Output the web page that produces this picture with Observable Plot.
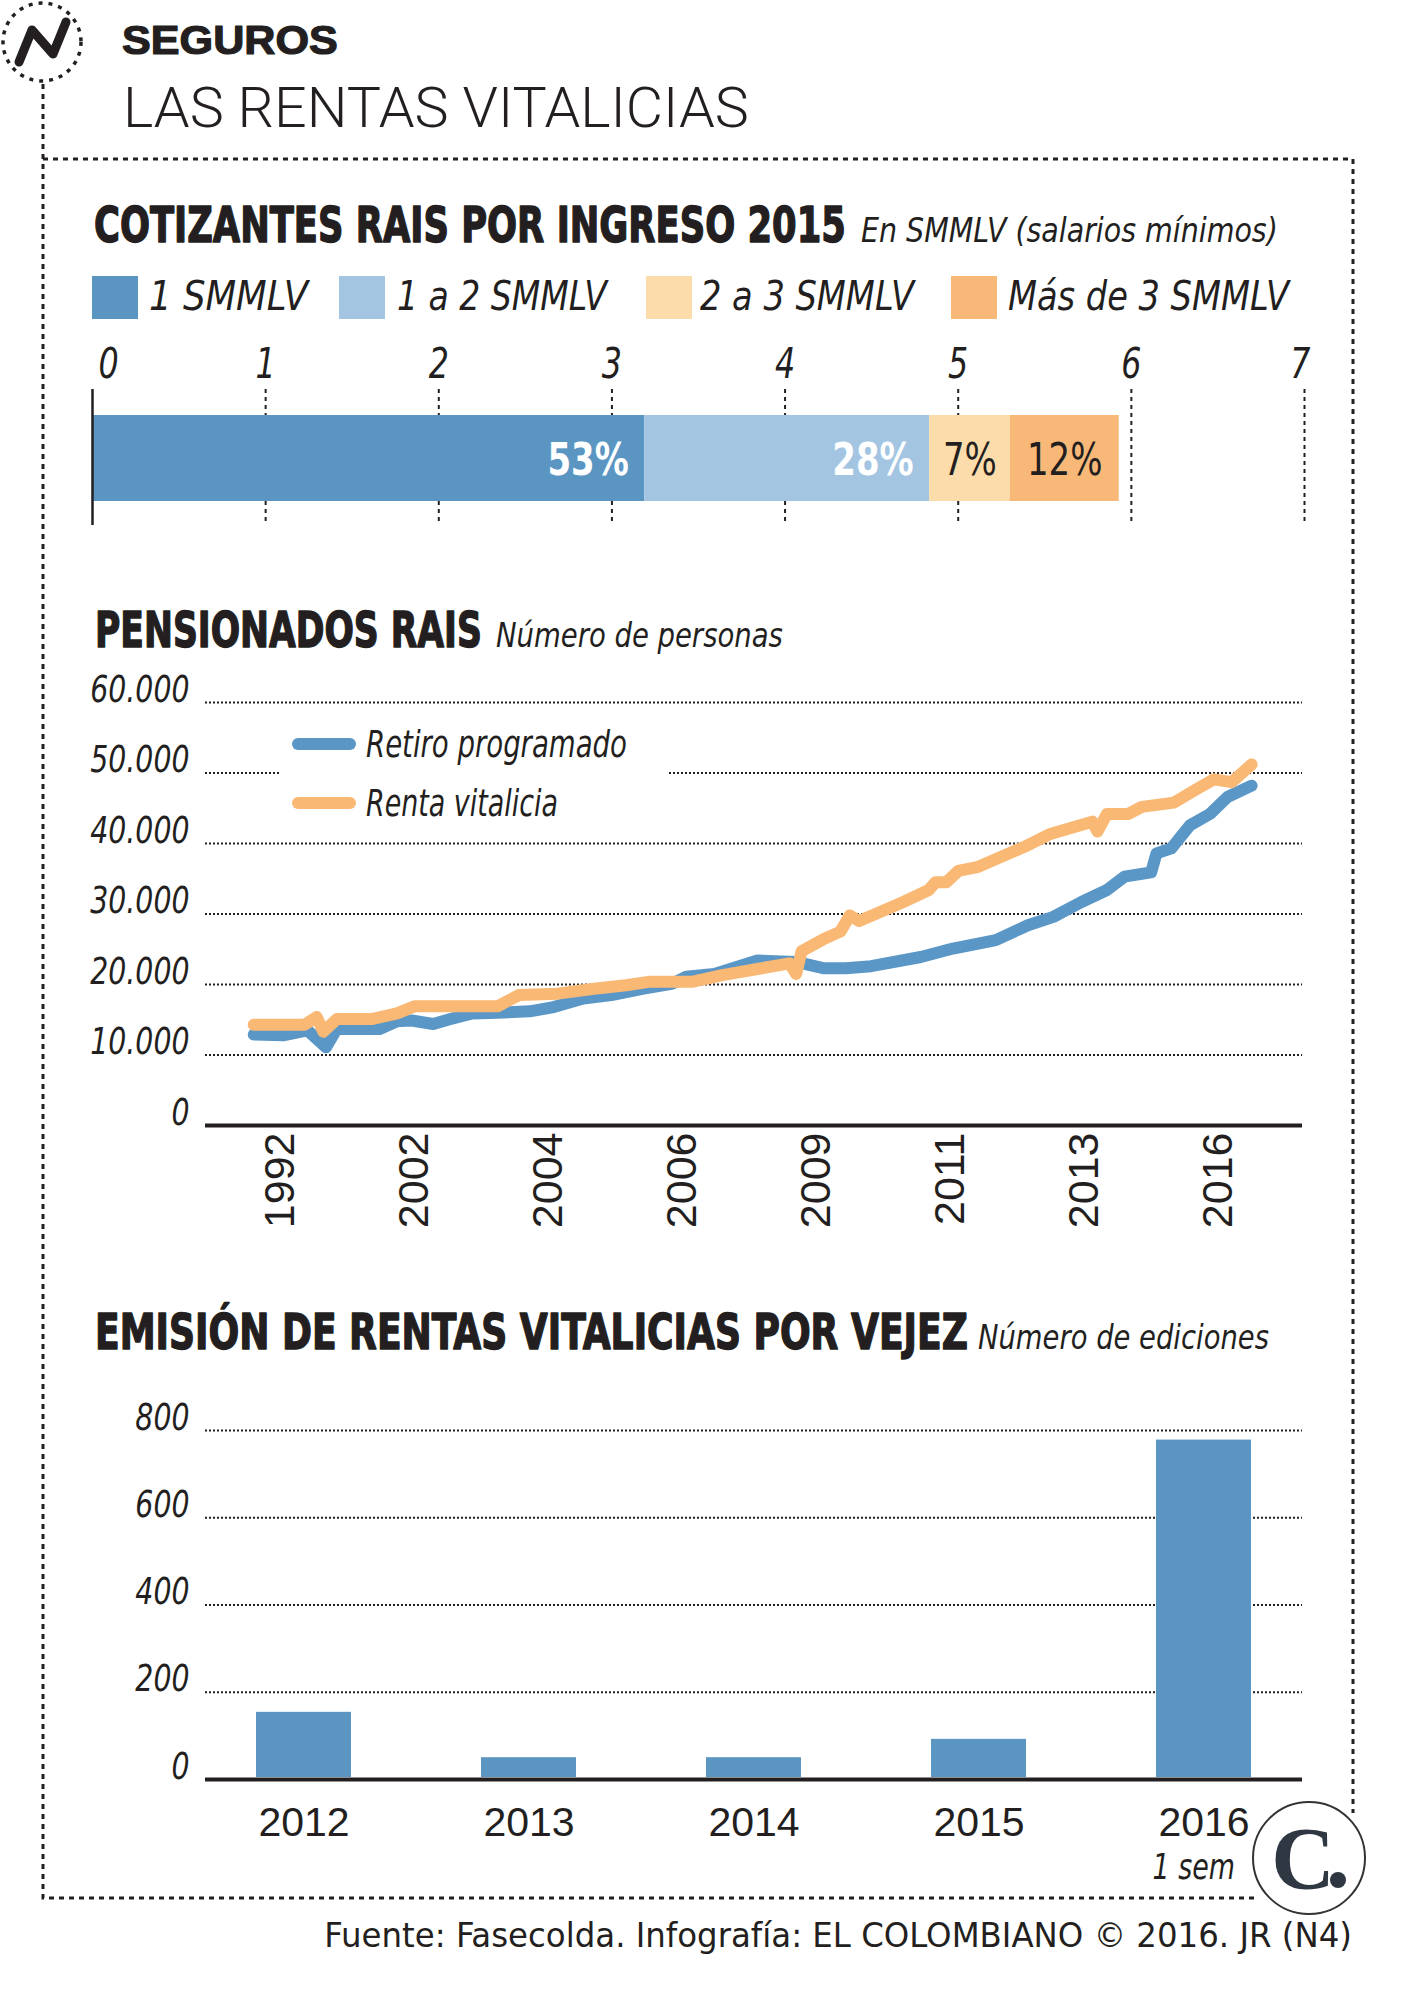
<!DOCTYPE html>
<html><head><meta charset="utf-8">
<script src="https://cdn.jsdelivr.net/npm/d3@7"></script>
<script src="https://cdn.jsdelivr.net/npm/@observablehq/plot@0.6"></script>
<style>
html,body{margin:0;padding:0;background:#fff;}
#page{position:relative;width:1412px;height:2000px;overflow:hidden;background:#fff;color:#231f20;
  font-family:"Liberation Sans Narrow","Arial Narrow","DejaVu Sans Condensed",sans-serif;}
</style></head><body><div id="page"></div>
<script>
// ---------- DATA ----------
const kicker = "SEGUROS";
const headline = "LAS RENTAS VITALICIAS";
const source = "Fuente: Fasecolda. Infografía: EL COLOMBIANO © 2016. JR (N4)";

const title1 = "COTIZANTES RAIS POR INGRESO 2015";
const subtitle1 = "En SMMLV (salarios mínimos)";
const incomeCats = ["1 SMMLV", "1 a 2 SMMLV", "2 a 3 SMMLV", "Más de 3 SMMLV"];
const incomeValues = [3.19, 1.645, 0.465, 0.63];
const incomeLabels = ["53%", "28%", "7%", "12%"];
const incomeColors = ["#5b96c3", "#a3c5e1", "#fddcab", "#f8b878"];
const incomeTicks = [0, 1, 2, 3, 4, 5, 6, 7];

const title2 = "PENSIONADOS RAIS";
const subtitle2 = "Número de personas";
const pensionSeries = ["Retiro programado", "Renta vitalicia"];
const pensionColors = ["#5b97c6", "#f9b874"];
const pensionTickPos = [1, 2, 3, 4, 5, 6, 7, 8];
const pensionTickLabels = ["1992", "2002", "2004", "2006", "2009", "2011", "2013", "2016"];
const pensionYTicks = [0, 10000, 20000, 30000, 40000, 50000, 60000];
const retiroT = [0.80,1.02,1.20,1.34,1.42,1.74,1.87,1.98,2.14,2.27,2.43,2.62,2.86,3.04,3.26,3.47,3.71,3.92,4.03,4.24,4.56,4.85,5.06,5.22,5.41,5.78,6.02,6.34,6.58,6.77,6.98,7.17,7.30,7.50,7.54,7.65,7.79,7.94,8.07,8.25];
const retiroV = [12900,12800,13500,11100,13700,13700,14800,14900,14400,15100,15900,16000,16200,16800,18000,18500,19400,20100,21100,21500,23400,23200,22300,22300,22600,23900,25100,26300,28400,29600,31700,33400,35300,35900,38600,39300,42600,44200,46600,48200];
const rentaT = [0.80,1.18,1.27,1.32,1.42,1.68,1.87,2.00,2.62,2.78,3.07,3.34,3.58,3.76,4.08,4.29,4.56,4.80,4.85,4.89,5.06,5.18,5.25,5.32,5.65,5.84,5.89,5.97,6.06,6.21,6.55,6.74,7.06,7.10,7.17,7.33,7.43,7.67,7.83,7.97,8.10,8.25];
const rentaV = [14300,14300,15400,13300,15100,15100,15900,16900,16900,18500,18700,19400,19900,20400,20400,21300,22200,23000,21500,24700,26500,27500,29800,29000,31700,33400,34500,34500,36100,36700,39500,41300,43100,41700,44200,44200,45200,45800,47600,49100,48700,51200];

const title3 = "EMISIÓN DE RENTAS VITALICIAS POR VEJEZ";
const subtitle3 = "Número de ediciones";
const emisionYears = ["2012", "2013", "2014", "2015", "2016"];
const emisionValues = [154, 50, 50, 92, 778];
const emisionYTicks = [0, 200, 400, 600, 800];
const emisionNote = "1 sem";

// ---------- STYLE / LAYOUT ----------
const INK = "#231f20";
const NARROW = '"Liberation Sans Narrow","Arial Narrow","DejaVu Sans Condensed",sans-serif';
const SANS = '"Liberation Sans",Arial,sans-serif';
const baseStyle = {fontFamily: NARROW, fontSize: "38px", background: "transparent", overflow: "visible", color: INK};
const legend1Layout = {swatchX: [92, 339, 646, 951], textX: [149, 397, 700, 1008], textW: [159, 210, 214, 281], top: 276, baseline: 310};
const legend2Layout = {box: [279, 722, 389, 100], lineX: [298, 350], lineY: [744, 803], textX: 366, baseline: [757, 816], textW: [261, 192]};
const page = document.getElementById("page");
function place(node, top) {
  node.style.position = "absolute"; node.style.left = "0px"; node.style.top = top + "px";
  page.appendChild(node);
}
// narrow the (wider) fallback font horizontally, keeping each label's anchor
function condense(root, selector, k) {
  d3.select(root).selectAll(selector).each(function () {
    const t = this.getAttribute("transform") || "";
    this.setAttribute("transform", (t + ` scale(${k},1)`).trim());
  });
}

// ---------- CHART 1 ----------
const cum = d3.cumsum(incomeValues);
const total = cum[cum.length - 1];
const incomeRows = incomeCats.map((c, i) => ({cat: c, label: incomeLabels[i], x1: cum[i] - incomeValues[i], x2: cum[i], share: incomeValues[i] / total}));
const firstTick = incomeTicks[0], lastTick = incomeTicks[incomeTicks.length - 1];
const tickOpts = {anchor: "top", tickSize: 0, tickPadding: 12, fontSize: 42, fontStyle: "italic", label: null, tickFormat: d => String(d)};
const plot1 = Plot.plot({
  width: 1412, height: 200, marginLeft: 92, marginRight: 108, marginTop: 59, marginBottom: 5,
  style: baseStyle,
  x: {domain: [firstTick, lastTick]},
  color: {domain: incomeCats, range: incomeColors},
  marks: [
    Plot.ruleX(incomeTicks.filter(d => d > firstTick), {stroke: INK, strokeWidth: 2, strokeDasharray: "4,4"}),
    Plot.barX(incomeRows, {x1: "x1", x2: "x2", fill: "cat", insetTop: 26, insetBottom: 24}),
    Plot.ruleX([firstTick], {stroke: INK, strokeWidth: 2.5}),
    Plot.axisX(incomeTicks.filter(d => d > firstTick && d < lastTick), tickOpts),
    Plot.axisX([firstTick], {...tickOpts, textAnchor: "start", dx: 6}),
    Plot.axisX([lastTick], {...tickOpts, textAnchor: "end", dx: 6}),
    Plot.text(incomeRows.filter(d => d.share >= 0.2), {x: "x2", text: "label", textAnchor: "end", dx: -16, dy: 3, fill: "white", fontWeight: "bold", fontSize: 45}),
    Plot.text(incomeRows.filter(d => d.share < 0.2), {x: d => (d.x1 + d.x2) / 2, text: "label", dy: 3, fill: INK, fontSize: 45})
  ]
});
condense(plot1, "text", 0.84);
place(plot1, 330);

// ---------- CHART 2 ----------
const fmtThousands = d3.formatLocale({decimal: ",", thousands: ".", grouping: [3], currency: ["", ""]}).format(",d");
const pensionRows = [
  ...retiroT.map((t, i) => ({serie: pensionSeries[0], t, v: retiroV[i]})),
  ...rentaT.map((t, i) => ({serie: pensionSeries[1], t, v: rentaV[i]}))
];
const plot2 = Plot.plot({
  width: 1412, height: 600, marginLeft: 205, marginRight: 110, marginTop: 52, marginBottom: 125,
  style: baseStyle,
  x: {domain: [0.44, 8.63]},
  y: {domain: [0, 60000]},
  color: {domain: pensionSeries, range: pensionColors},
  marks: [
    Plot.ruleY(pensionYTicks.filter(d => d > 0), {stroke: INK, strokeWidth: 2, strokeDasharray: "2,2"}),
    Plot.axisY(pensionYTicks, {tickSize: 0, tickPadding: 16, fontSize: 38, fontStyle: "italic", dy: -13, label: null, tickFormat: fmtThousands}),
    Plot.axisX(pensionTickPos, {tickSize: 0, tickPadding: 7, tickRotate: -90, fontSize: 43, fontFamily: SANS, label: null,
      tickFormat: d => pensionTickLabels[pensionTickPos.indexOf(d)]}),
    Plot.line(pensionRows, {x: "t", y: "v", z: "serie", stroke: "serie", strokeWidth: 12, strokeLinejoin: "round", strokeLinecap: "round"}),
    Plot.ruleY([0], {stroke: INK, strokeWidth: 4})
  ]
});
condense(plot2, "g[aria-label='y-axis tick label'] text", 0.83);
place(plot2, 650);

// ---------- CHART 3 ----------
const emisionRows = emisionYears.map((y, i) => ({year: y, value: emisionValues[i]}));
const plot3 = Plot.plot({
  width: 1412, height: 520, marginLeft: 205, marginRight: 110, marginTop: 50, marginBottom: 121,
  style: baseStyle,
  x: {domain: emisionYears, paddingInner: 0.58, paddingOuter: 0.217},
  y: {domain: [0, 800]},
  marks: [
    Plot.ruleY(emisionYTicks.filter(d => d > 0), {stroke: INK, strokeWidth: 2, strokeDasharray: "2,2"}),
    Plot.barY(emisionRows, {x: "year", y: "value", fill: "#5b96c3", insetBottom: 2}),
    Plot.ruleY([0], {stroke: INK, strokeWidth: 4}),
    Plot.axisY(emisionYTicks, {tickSize: 0, tickPadding: 16, fontSize: 38, fontStyle: "italic", dy: -13, label: null}),
    Plot.axisX({tickSize: 0, tickPadding: 27, fontSize: 41, fontFamily: SANS, label: null}),
    Plot.text([emisionNote], {x: () => emisionYears[emisionYears.length - 1], text: d => d, frameAnchor: "bottom",
      dy: 99, dx: 31, textAnchor: "end", lineAnchor: "bottom", fontSize: 36, fontStyle: "italic"})
  ]
});
condense(plot3, "g[aria-label='y-axis tick label'] text", 0.83);
condense(plot3, "g[aria-label='text'] text", 0.83);
place(plot3, 1380);

// ---------- OVERLAY: titles, legends, frame, logos ----------
const ov = d3.select(page).append("svg").attr("width", 1412).attr("height", 2000)
  .style("position", "absolute").style("left", "0px").style("top", "0px");
const dashed = s => s.attr("fill", "none").attr("stroke", INK).attr("stroke-width", 3).attr("stroke-dasharray", "5,5");
ov.append("path").attr("d", "M43,84 V1898 H1258").call(dashed);
ov.append("path").attr("d", "M43,159 H1353 V1813").call(dashed);

// N logo
ov.append("circle").attr("cx", 42).attr("cy", 42).attr("r", 39).attr("fill", "none").attr("stroke", INK)
  .attr("stroke-width", 3.5).attr("stroke-dasharray", "4,6");
ov.append("path").attr("d", "M19,62 L32,30 L53,54 L66,22").attr("fill", "none").attr("stroke", INK)
  .attr("stroke-width", 9).attr("stroke-linecap", "round").attr("stroke-linejoin", "round");

function txt(x, y, s, o) {
  const t = ov.append("text").attr("x", 0).attr("y", 0).text(s)
    .attr("font-family", o.family || NARROW).attr("font-size", o.size)
    .attr("font-weight", o.weight || "normal").attr("font-style", o.style || "normal")
    .attr("fill", o.fill || INK).attr("text-anchor", o.anchor || "start");
  if (o.stroke) t.attr("stroke", o.fill || INK).attr("stroke-width", o.stroke).attr("stroke-linejoin", "round");
  let k = 1;
  if (o.len) { const w = t.node().getComputedTextLength(); if (w > 0) k = o.len / w; }
  t.attr("transform", `translate(${x},${y}) scale(${k},1)`);
  return t;
}
txt(122, 54, kicker, {size: 40, weight: "bold", family: SANS, len: 216, stroke: 1.2});
txt(123, 127, headline, {size: 55, weight: 300, family: 'Roboto,"Open Sans",Lato,sans-serif', len: 626});

txt(94, 242, title1, {size: 50, weight: "bold", len: 752, stroke: 1.4});
txt(861, 242, subtitle1, {size: 33, style: "italic", len: 417});
txt(95, 647, title2, {size: 50, weight: "bold", len: 387, stroke: 1.4});
txt(496, 647, subtitle2, {size: 33, style: "italic", len: 287});
txt(95, 1349, title3, {size: 50, weight: "bold", len: 873, stroke: 1.4});
txt(978, 1349, subtitle3, {size: 33, style: "italic", len: 291});

// legend 1
incomeCats.forEach((c, i) => {
  ov.append("rect").attr("x", legend1Layout.swatchX[i]).attr("y", legend1Layout.top).attr("width", 46).attr("height", 43).attr("fill", incomeColors[i]);
  txt(legend1Layout.textX[i], legend1Layout.baseline, c, {size: 41, style: "italic", len: legend1Layout.textW[i]});
});

// legend 2 (white box over the 50.000 gridline)
const [bx, by, bw, bh] = legend2Layout.box;
ov.append("rect").attr("x", bx).attr("y", by).attr("width", bw).attr("height", bh).attr("fill", "#fff");
pensionSeries.forEach((s, i) => {
  ov.append("line").attr("x1", legend2Layout.lineX[0]).attr("x2", legend2Layout.lineX[1])
    .attr("y1", legend2Layout.lineY[i]).attr("y2", legend2Layout.lineY[i])
    .attr("stroke", pensionColors[i]).attr("stroke-width", 12).attr("stroke-linecap", "round");
  txt(legend2Layout.textX, legend2Layout.baseline[i], s, {size: 37, style: "italic", len: legend2Layout.textW[i]});
});

txt(1352, 1947, source, {size: 33, anchor: "end", len: 1028});

// C logo
ov.append("circle").attr("cx", 1309).attr("cy", 1858).attr("r", 56).attr("fill", "#fff").attr("stroke", "#333").attr("stroke-width", 2);
txt(1303, 1888, "C", {size: 88, weight: "bold", family: '"Liberation Serif","DejaVu Serif",serif', anchor: "middle", fill: "#2e3742"});
ov.append("circle").attr("cx", 1338).attr("cy", 1880).attr("r", 8).attr("fill", "#2e3742");
</script>
</body></html>
